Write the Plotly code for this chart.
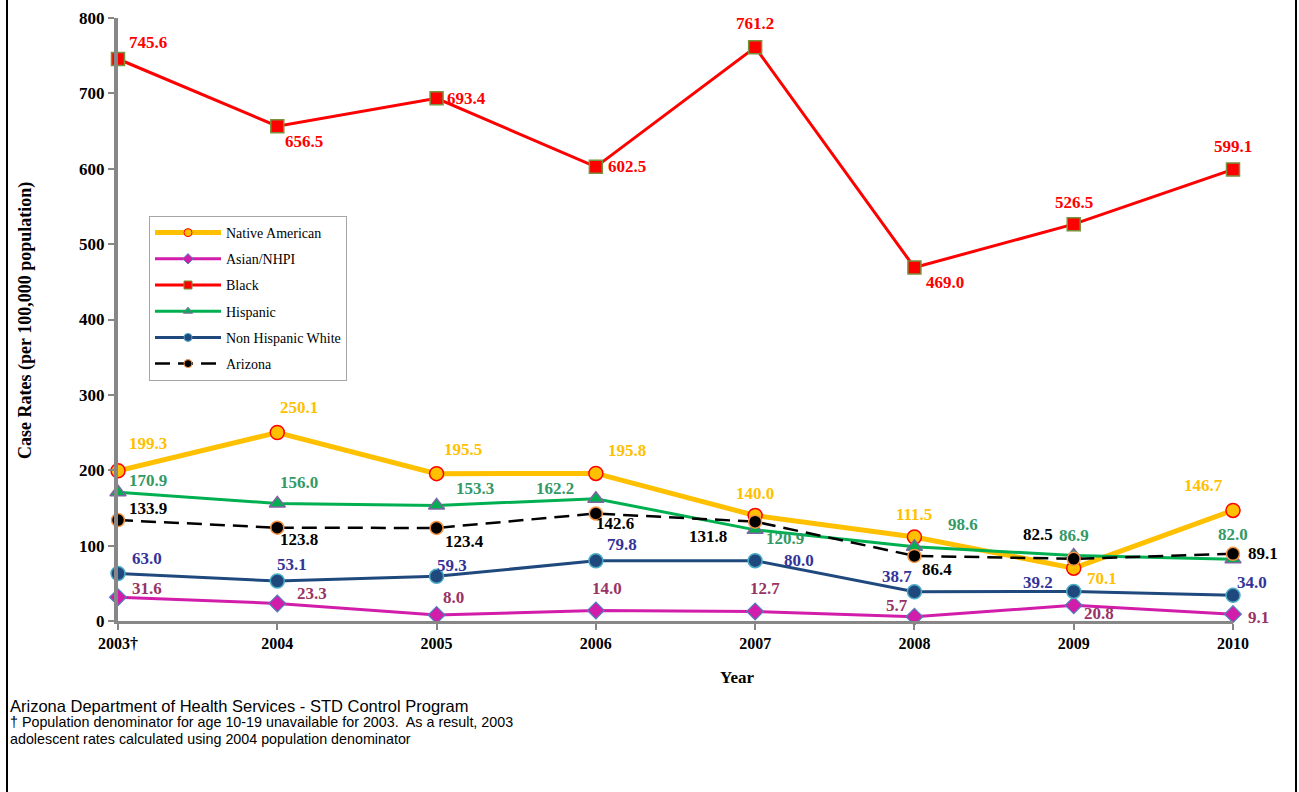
import plotly.graph_objects as go

# ---------------- data ----------------
years = ["2003†", "2004", "2005", "2006", "2007", "2008", "2009", "2010"]
native_american = [199.3, 250.1, 195.5, 195.8, 140.0, 111.5, 70.1, 146.7]
asian_nhpi = [31.6, 23.3, 8.0, 14.0, 12.7, 5.7, 20.8, 9.1]
black = [745.6, 656.5, 693.4, 602.5, 761.2, 469.0, 526.5, 599.1]
hispanic = [170.9, 156.0, 153.3, 162.2, 120.9, 98.6, 86.9, 82.0]
non_hispanic_white = [63.0, 53.1, 59.3, 79.8, 80.0, 38.7, 39.2, 34.0]
arizona = [133.9, 123.8, 123.4, 142.6, 131.8, 86.4, 82.5, 89.1]

# ---------------- layout geometry (pixels) ----------------
W, H = 1299, 792
L, R, T, B = 118, 66, 18, 171
PW = W - L - R
PH = H - T - B

def px_x(p):
    return (p - L) / PW

def px_y(p):
    return (H - B - p) / PH

x = list(range(len(years)))

# label offsets (dx, dy in px; dy positive = down)
off_na = [(30, -27), (22, -25), (26, -24), (31, -23), (0, -22), (0, -22), (28, 10), (-30, -25)]
off_as = [(29, -9), (35, -10), (17, -17), (11, -22), (10, -23), (-17, -11), (25, 8), (25, 3)]
off_bl = [(30, -17), (27, 15), (30, 0), (31, 0), (0, -24), (31, 15), (0, -22), (0, -23)]
off_hi = [(30, -12), (22, -21), (38, -17), (-41, -10), (30, 9), (49, -22), (0, -20), (0, -25)]
off_nw = [(29, -15), (15, -16), (15, -11), (26, -16), (44, 0), (-17, -15), (-36, -9), (19, -13)]
off_az = [(30, -12), (22, 12), (28, 14), (19, 10), (-47, 15), (23, 14), (-36, -24), (30, 0)]

series = [
    dict(name="Native American", y=native_american, line=dict(color="#FFC000", width=5),
         marker=dict(symbol="circle", size=14, color="#FFC000", line=dict(color="#FF0000", width=1.5)),
         label_color="#FFC000", off=off_na),
    dict(name="Asian/NHPI", y=asian_nhpi, line=dict(color="#D21DAB", width=3),
         marker=dict(symbol="diamond", size=13, color="#D21DAB", line=dict(color="#4F81BD", width=1.2)),
         label_color="#993366", off=off_as),
    dict(name="Black", y=black, line=dict(color="#FF0000", width=3),
         marker=dict(symbol="square", size=13, color="#FF0000", line=dict(color="#77933C", width=1.5)),
         label_color="#FF0000", off=off_bl),
    dict(name="Hispanic", y=hispanic, line=dict(color="#00B050", width=3),
         marker=dict(symbol="triangle-up", size=14, color="#00B050", line=dict(color="#8064A2", width=1.5)),
         label_color="#339966", off=off_hi),
    dict(name="Non Hispanic White", y=non_hispanic_white, line=dict(color="#1F497D", width=3),
         marker=dict(symbol="circle", size=14, color="#1F497D", line=dict(color="#4BACC6", width=1.5)),
         label_color="#333399", off=off_nw),
    dict(name="Arizona", y=arizona, line=dict(color="#000000", width=2.5, dash="15px,8px"),
         marker=dict(symbol="circle", size=13, color="#000000", line=dict(color="#F79646", width=1.5)),
         label_color="#000000", off=off_az),
]

serif = "Liberation Serif"

fig = go.Figure()
annotations = []
for i, s in enumerate(series):
    fig.add_trace(go.Scatter(
        x=x, y=s["y"], name=s["name"], mode="lines+markers",
        line=s["line"], marker=s["marker"], cliponaxis=False, showlegend=False,
    ))
    # legend entry with smaller marker, as in the reference legend
    lm = dict(s["marker"])
    lm["size"] = 8
    lm["line"] = dict(color=s["marker"]["line"]["color"], width=1)
    fig.add_trace(go.Scatter(
        x=[None], y=[None], name=s["name"], mode="lines+markers",
        line=s["line"], marker=lm, showlegend=True, legendgroup="g%d" % i,
        hoverinfo="skip",
    ))
    for xi, yi, (dx, dy) in zip(x, s["y"], s["off"]):
        annotations.append(dict(
            x=xi, y=yi, xref="x", yref="y", text="<b>%.1f</b>" % yi, showarrow=False,
            xshift=dx, yshift=-dy,
            font=dict(family=serif, size=17, color=s["label_color"]),
        ))

annotations += [
    dict(text="<b>Case Rates (per 100,000 population)</b>", textangle=-90,
         x=px_x(25), y=px_y(321), xref="paper", yref="paper", showarrow=False,
         xanchor="center", yanchor="middle",
         font=dict(family=serif, size=18, color="#000000")),
    dict(text="<b>Year</b>", x=px_x(737), y=px_y(678), xref="paper", yref="paper",
         xanchor="center", yanchor="middle",
         showarrow=False, font=dict(family=serif, size=17, color="#000000")),
    dict(text="Arizona Department of Health Services - STD Control Program",
         x=px_x(8), y=px_y(706), xref="paper", yref="paper", xanchor="left", yanchor="middle",
         showarrow=False, font=dict(family="Liberation Sans", size=16.5, color="#000000")),
    dict(text="† Population denominator for age 10-19 unavailable for 2003.  As a result, 2003",
         x=px_x(8), y=px_y(722), xref="paper", yref="paper", xanchor="left", yanchor="middle",
         showarrow=False, font=dict(family="Liberation Sans", size=14.3, color="#000000")),
    dict(text="adolescent rates calculated using 2004 population denominator",
         x=px_x(8), y=px_y(739), xref="paper", yref="paper", xanchor="left", yanchor="middle",
         showarrow=False, font=dict(family="Liberation Sans", size=14.3, color="#000000")),
]

shapes = [
    dict(type="line", xref="paper", yref="paper", x0=px_x(7), x1=px_x(7), y0=px_y(0), y1=px_y(H),
         line=dict(color="#000000", width=2)),
    dict(type="line", xref="paper", yref="paper", x0=px_x(1296), x1=px_x(1296), y0=px_y(0), y1=px_y(H),
         line=dict(color="#000000", width=2)),
]

fig.update_layout(
    template="none",
    width=W, height=H,
    margin=dict(l=L, r=R, t=T, b=B, pad=0, autoexpand=False),
    plot_bgcolor="#FFFFFF", paper_bgcolor="#FFFFFF",
    showlegend=True,
    legend=dict(
        x=px_x(149), y=px_y(216), xanchor="left", yanchor="top",
        bgcolor="#FFFFFF", bordercolor="#A6A6A6", borderwidth=1,
        font=dict(family=serif, size=14, color="#000000"),
        traceorder="grouped", tracegroupgap=5, itemwidth=66,
    ),
    xaxis=dict(
        range=[0, 7], tickmode="array", tickvals=x, ticktext=["<b>%s</b>" % t for t in years],
        automargin=False,
        showgrid=False, zeroline=False, showline=True, linecolor="#878787", linewidth=3,
        ticks="outside", ticklen=6, tickwidth=2, tickcolor="#878787",
        tickfont=dict(family=serif, size=16, color="#000000"),
    ),
    yaxis=dict(
        range=[0, 800], tickmode="array", tickvals=list(range(0, 801, 100)),
        ticktext=["<b>%d</b>" % v for v in range(0, 801, 100)],
        automargin=False,
        showgrid=False, zeroline=False, showline=True, linecolor="#878787", linewidth=4,
        ticks="outside", ticklen=6, tickwidth=2, tickcolor="#878787",
        tickfont=dict(family=serif, size=17, color="#000000"),
    ),
    annotations=annotations,
    shapes=shapes,
)

fig.write_html("out.html", config={"displayModeBar": False},
               post_script="document.body.style.margin='0';document.body.style.overflow='hidden';")
